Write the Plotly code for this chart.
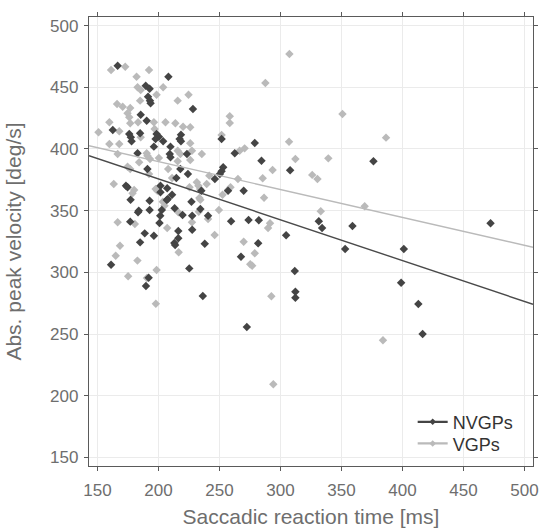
import plotly.graph_objects as go

# NVGPs (dark) scatter data: saccadic reaction time [ms], abs. peak velocity [deg/s]
nvgp_x = [278.9, 284.4, 376.2, 307.9, 273.8, 282.2, 331.4, 334.1, 359.0, 472.2,
          304.6, 281.7, 353.0, 401.1, 311.7, 398.9, 312.2, 312.2, 413.0, 416.5,
          177.1, 192.7, 206.8, 227.0, 183.8, 183.2, 192.7, 202.7, 213.2, 219.7,
          227.6, 234.3, 240.6, 201.4, 200.8, 176.8, 259.5, 188.7, 196.2,
          216.2, 216.2, 213.0, 213.6, 227.6, 184.9, 237.9, 267.6, 161.1, 191.9,
          189.7, 225.2, 236.3, 272.4, 166.5, 208.1, 189.5, 192.7, 191.4, 193.0,
          193.5, 228.2, 185.4, 190.3, 162.5, 176.0, 177.3, 177.9, 184.9, 198.4,
          200.3, 197.6, 203.8, 218.4, 217.3, 218.4, 209.8, 196.2, 182.8, 209.2,
          223.3, 251.7, 262.5, 190.9, 217.9, 214.6, 224.1, 173.3, 174.6, 201.6,
          201.6, 207.1, 211.1, 207.6, 253.0, 251.7, 250.3, 246.2, 257.0,
          269.8, 235.1, 209.8]
nvgp_y = [404.9, 390.5, 390.0, 382.7, 342.4, 342.2, 341.4, 336.0, 337.6, 339.8,
          330.0, 323.5, 318.9, 318.9, 301.1, 291.6, 284.3, 279.4, 274.3, 250.0,
          358.9, 358.0, 358.6, 357.3, 350.0, 348.7, 350.5, 350.5, 351.9, 346.5,
          345.9, 351.4, 345.9, 345.9, 340.0, 341.1, 341.4, 331.6, 329.7,
          333.5, 327.6, 323.8, 322.2, 334.6, 324.3, 323.2, 312.7, 306.2, 295.6,
          288.9, 303.2, 280.8, 255.7, 467.5, 458.6, 451.3, 448.9, 442.4, 439.2,
          437.0, 432.4, 427.8, 422.9, 415.4, 412.2, 409.5, 406.2, 412.7, 412.2,
          410.0, 408.1, 406.2, 411.6, 408.1, 406.2, 401.9, 401.9, 396.5, 396.0,
          396.0, 408.1, 396.5, 383.8, 383.8, 376.5, 379.7, 370.2, 368.9, 370.2,
          364.9, 368.1, 362.9, 359.5, 385.2, 381.9, 379.7, 375.7, 366.2,
          366.2, 366.2, 393.3]

# VGPs (light) scatter data
vgp_x = [307.3, 287.6, 350.8, 386.5, 307.0, 312.2, 339.2, 293.5, 285.4, 326.0,
         330.3, 286.5, 369.0, 333.0, 291.4, 289.8, 278.9, 275.2, 276.8, 292.5,
         384.0, 294.1, 234.3, 203.5, 204.9, 216.2, 233.0, 240.6, 249.5, 166.5,
         180.6, 246.0, 269.8, 168.4, 164.9, 182.7, 175.1, 190.5, 198.4, 197.8,
         161.1, 172.7, 192.2, 182.0, 182.8, 185.4, 203.8, 198.4, 184.9, 215.7,
         224.6, 166.0, 170.6, 176.8, 174.6, 176.0, 176.8, 196.2, 196.8, 183.2,
         205.7, 213.8, 220.1, 226.0, 159.7, 150.8, 167.8, 185.4, 226.0, 159.7,
         167.8, 166.5, 190.3, 215.7, 217.9, 258.4, 258.4, 251.7, 266.5, 270.6,
         227.4, 235.5, 190.9, 193.0, 200.3, 215.7, 226.0, 174.6, 176.8, 184.1,
         192.2, 207.9, 211.1, 163.3, 180.0, 178.7, 197.6, 199.0, 225.4, 207.1,
         216.5, 241.6, 265.1, 231.4, 232.7, 234.1, 239.5, 259.0, 257.0, 252.5,
         233.5, 227.4]
vgp_y = [477.0, 453.5, 428.4, 409.2, 405.9, 391.9, 392.4, 383.0, 376.2, 379.0,
         375.7, 360.5, 353.5, 349.5, 339.8, 336.0, 315.4, 306.5, 305.4, 280.6,
         245.0, 209.3, 358.9, 357.3, 354.0, 348.7, 349.2, 343.2, 350.5, 340.6,
         339.2, 330.3, 324.8, 321.6, 313.5, 309.5, 296.8, 295.4, 301.9, 274.6,
         464.0, 466.7, 464.0, 458.6, 450.0, 447.8, 450.0, 444.0, 439.2, 439.2,
         444.0, 436.5, 434.3, 433.2, 428.9, 425.7, 420.8, 421.6, 416.2, 421.6,
         421.6, 420.8, 418.1, 417.6, 421.6, 413.5, 414.4, 409.5, 404.6, 404.1,
         404.1, 396.0, 396.5, 398.6, 396.0, 426.5, 421.1, 411.4, 398.6, 400.5,
         398.6, 396.0, 394.6, 391.9, 392.7, 390.0, 391.1, 385.6, 383.8, 389.2,
         379.7, 383.8, 376.5, 371.6, 366.8, 364.1, 367.6, 366.2, 368.9, 336.0,
         316.2, 378.4, 375.7, 373.0, 370.2, 367.6, 371.6, 368.9, 366.8, 362.9,
         360.3, 340.6]

# Linear fits (values at the panel edges)
fit_x = [143, 507]
nvgp_fit = [394.6, 274.1]
vgp_fit = [402.7, 320.3]

groups = ["NVGPs", "VGPs"]
x_ticks = [150, 200, 250, 300, 350, 400, 450, 500]
y_ticks = [150, 200, 250, 300, 350, 400, 450, 500]

DARK = "#444444"
LIGHT = "#bababa"
FONT = "Liberation Sans, Arial, sans-serif"
GREY_TXT = "#6e6e6e"

fig = go.Figure()
fig.add_trace(go.Scatter(x=vgp_x, y=vgp_y, mode="markers", showlegend=False,
                         marker=dict(symbol="diamond", size=6.5, color=LIGHT, line=dict(width=0))))
fig.add_trace(go.Scatter(x=nvgp_x, y=nvgp_y, mode="markers", showlegend=False,
                         marker=dict(symbol="diamond", size=6.5, color=DARK, line=dict(width=0))))
fig.add_trace(go.Scatter(x=fit_x, y=vgp_fit, mode="lines", showlegend=False,
                         line=dict(color=LIGHT, width=1.4)))
fig.add_trace(go.Scatter(x=fit_x, y=nvgp_fit, mode="lines", showlegend=False,
                         line=dict(color="#4a4a4a", width=1.4)))
# legend entries (one legend box per group for exact spacing)
for name, col, lg in zip(groups, [DARK, LIGHT], ["legend", "legend2"]):
    fig.add_trace(go.Scatter(x=[None], y=[None], mode="lines+markers", name=name,
                             legend=lg,
                             line=dict(color=col, width=2.2),
                             marker=dict(symbol="diamond", size=5, color=col)))

axis_common = dict(
    showgrid=True, gridcolor="#ebebeb", gridwidth=1,
    showline=True, linecolor="#5a5a5a", linewidth=1.4, mirror="allticks",
    ticks="outside", ticklen=4, tickwidth=1, tickcolor="#5a5a5a",
    tickfont=dict(family=FONT, size=17, color=GREY_TXT),
    zeroline=False,
)

legend_common = dict(xanchor="left", yanchor="middle",
                     bgcolor="rgba(255,255,255,0)", borderwidth=0,
                     font=dict(family=FONT, size=18, color="#333333"),
                     itemwidth=30)

fig.update_layout(
    width=547, height=532,
    margin=dict(l=89, r=8, t=17, b=64),
    paper_bgcolor="white", plot_bgcolor="white",
    font=dict(family=FONT),
    xaxis=dict(range=[143, 507], tickvals=x_ticks, ticklabelstandoff=4,
               title=dict(text="Saccadic reaction time [ms]", font=dict(family=FONT, size=21, color=GREY_TXT), standoff=10),
               **axis_common),
    yaxis=dict(range=[143, 507], tickvals=y_ticks, ticklabelstandoff=2,
               title=dict(text="Abs. peak velocity [deg/s]", font=dict(family=FONT, size=21, color=GREY_TXT), standoff=22),
               **axis_common),
    legend=dict(x=0.729, y=0.0977, **legend_common),
    legend2=dict(x=0.729, y=0.0495, **legend_common),
)

fig.write_html("out.html")
